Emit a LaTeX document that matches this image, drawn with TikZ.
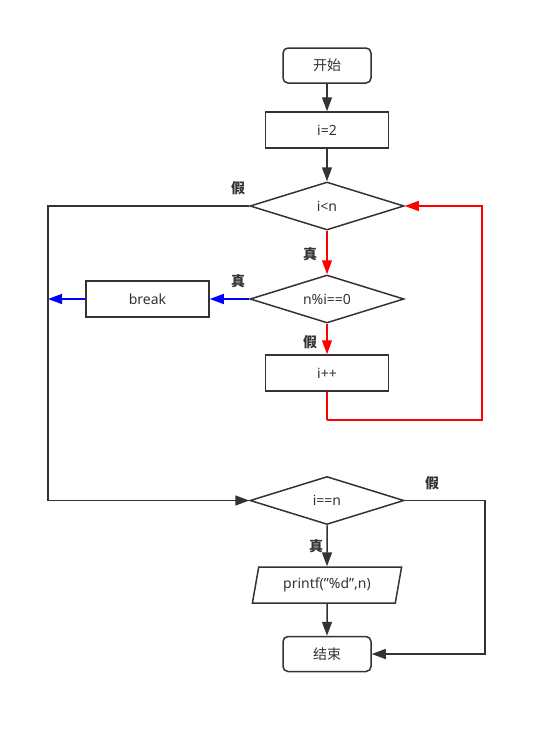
\documentclass[tikz,border=0pt]{standalone}
\usepackage{fontspec}
\setmainfont{Noto Sans}
\newfontfamily\cjk{Noto Sans CJK SC}
\usetikzlibrary{arrows.meta,shapes.geometric,calc}
\definecolor{dk}{HTML}{333333}
\definecolor{rd}{HTML}{FF0000}
\definecolor{bl}{HTML}{0000FF}
\begin{document}
\begin{tikzpicture}[x=1pt,y=-1pt,
  base/.style={draw=dk,line width=1.5pt,fill=white,text=dk,font=\fontsize{14}{16}\selectfont,inner sep=0pt},
  rbox/.style={base,rounded corners=5pt,minimum width=88pt,minimum height=35pt},
  pbox/.style={base,minimum width=123pt,minimum height=36pt},
  dbox/.style={base,diamond,aspect=3.2,minimum width=154pt,minimum height=48pt},
  iobox/.style={base,trapezium,trapezium left angle=74,trapezium right angle=106,minimum width=150pt,minimum height=36pt,trapezium stretches=true},
  conn/.style={draw=dk,line width=1.5pt,-{Triangle[length=14pt,width=10pt]}},
  rconn/.style={draw=rd,line width=1.5pt,-{Triangle[length=14pt,width=10pt]}},
  bconn/.style={draw=bl,line width=1.5pt,-{Triangle[length=14pt,width=10pt]}},
  lbl/.style={text=dk,font=\cjk\fontsize{14}{16}\selectfont\bfseries}
]
\useasboundingbox (0,0) rectangle (546,734);
\node[rbox] (start) at (327,65.5) {\cjk 开始};
\node[pbox] (init) at (327,130) {i=2};
\node[dbox] (cond) at (327,206) {i<n};
\node[dbox] (mod) at (327,299) {n\%i==0};
\node[pbox] (brk) at (147.5,299) {break};
\node[pbox] (inc) at (327,373) {i++};
\node[dbox] (eq) at (327,500.5) {i==n};
\node[iobox] (out) at (327,585) {printf(\symbol{34}\%d\symbol{34},n)};
\node[rbox] (end) at (327,654) {\cjk 结束};
\coordinate (brkend) at (48,299);
\coordinate (loopA) at (327,420);
\coordinate (loopB) at (482,420);
\coordinate (loopC) at (482,206);

\draw[conn] (start) -- (init);
\draw[conn] (init) -- (cond);
\draw[rconn] (cond) -- (mod);
\draw[rconn] (mod) -- (inc);
\draw[draw=rd,line width=1.5pt] (inc.south) -- (loopA);
\draw[rconn] (loopA) -- (loopB) -- (loopC) -- (cond.east);
\draw[bconn] (mod) -- (brk);
\draw[bconn] (brk) -- (brkend);
\draw[conn] (cond.west) -- (48,206) |- (eq.west);
\draw[conn] (eq) -- (out);
\draw[conn] (out) -- (end);
\draw[conn] (eq.east) -- (485,500.5) |- (end.east);

\node[lbl] (l1) at (238,188) {假};
\node[lbl] (l2) at (310,254) {真};
\node[lbl] (l3) at (238,281) {真};
\node[lbl] (l4) at (310,342) {假};
\node[lbl] (l5) at (432,483) {假};
\node[lbl] (l6) at (316,546) {真};
\end{tikzpicture}
\end{document}
